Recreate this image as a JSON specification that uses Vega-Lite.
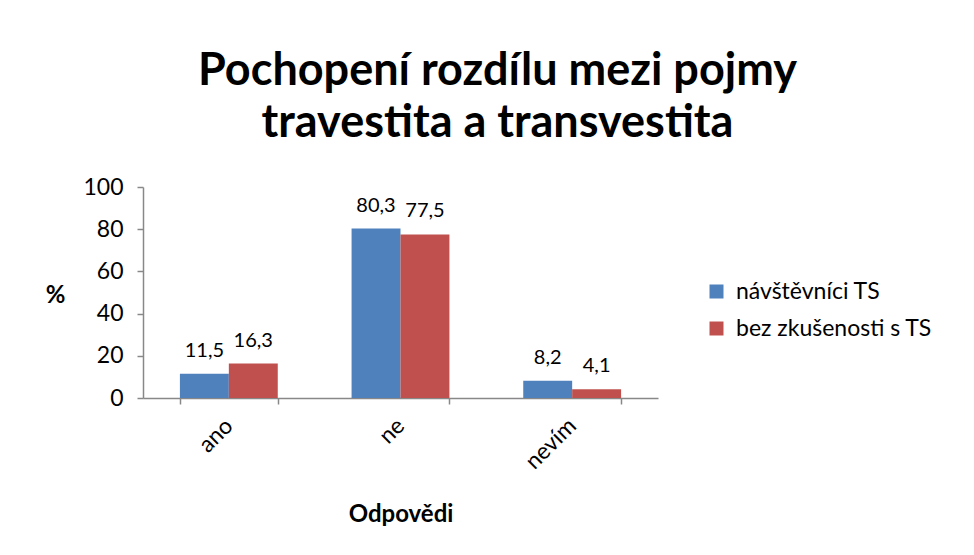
{
  "$schema": "https://vega.github.io/schema/vega-lite/v6.json",
  "autosize": "none",
  "width": 515,
  "height": 211,
  "padding": {"left": 143, "top": 187, "right": 316, "bottom": 157},
  "background": "white",
  "config": {
    "locale": {"number": {"decimal": ",", "thousands": " ", "grouping": [3], "currency": ["", " Kč"]}},
    "view": {"stroke": null},
    "font": "Lato"
  },
  "title": {
    "text": ["Pochopení rozdílu mezi pojmy", "travestita a transvestita"],
    "font": "Lato",
    "fontSize": 45,
    "fontWeight": "bold",
    "color": "#000000",
    "lineHeight": 52,
    "anchor": "middle",
    "dx": 97,
    "offset": 30
  },
  "data": {
    "values": [
      {"odpoved": "ano", "skupina": "návštěvníci TS", "pct": 11.5},
      {"odpoved": "ano", "skupina": "bez zkušenosti s TS", "pct": 16.3},
      {"odpoved": "ne", "skupina": "návštěvníci TS", "pct": 80.3},
      {"odpoved": "ne", "skupina": "bez zkušenosti s TS", "pct": 77.5},
      {"odpoved": "nevím", "skupina": "návštěvníci TS", "pct": 8.2},
      {"odpoved": "nevím", "skupina": "bez zkušenosti s TS", "pct": 4.1}
    ]
  },
  "encoding": {
    "x": {
      "field": "odpoved", "type": "nominal", "sort": ["ano", "ne", "nevím"],
      "scale": {"paddingInner": 0.43, "paddingOuter": 0.215},
      "axis": {
        "title": "Odpovědi", "titleFont": "Lato", "titleFontSize": 24, "titleFontWeight": "bold", "titleColor": "#000000",
        "titleY": 116, "titleBaseline": "middle",
        "labelAngle": -45, "labelAlign": "right", "labelBaseline": "middle", "labelFontSize": 23, "labelColor": "#000000",
        "labelPadding": 18, "labelFont": "Lato",
        "tickBand": "extent", "tickSize": 6, "tickColor": "#888888", "domainColor": "#888888", "domainWidth": 1.5, "tickWidth": 1.5
      }
    },
    "y": {
      "field": "pct", "type": "quantitative",
      "scale": {"domain": [0, 100]},
      "axis": {
        "values": [0, 20, 40, 60, 80, 100], "grid": false,
        "title": "%", "titleAngle": 0, "titleFont": "Lato", "titleFontSize": 24, "titleFontWeight": "bold", "titleColor": "#000000",
        "titleX": -88, "titleY": 108, "titleAlign": "center", "titleBaseline": "middle",
        "labelFontSize": 23, "labelColor": "#000000", "labelPadding": 14, "labelFont": "Lato",
        "tickSize": 6, "tickColor": "#888888", "domainColor": "#888888", "domainWidth": 1.5, "tickWidth": 1.5
      }
    },
    "xOffset": {"field": "skupina", "type": "nominal", "sort": ["návštěvníci TS", "bez zkušenosti s TS"], "scale": {"paddingInner": 0, "paddingOuter": 0}}
  },
  "layer": [
    {
      "mark": {"type": "bar"},
      "encoding": {
        "color": {
          "field": "skupina", "type": "nominal", "sort": ["návštěvníci TS", "bez zkušenosti s TS"],
          "scale": {"domain": ["návštěvníci TS", "bez zkušenosti s TS"], "range": ["#4F81BD", "#C0504D"]},
          "legend": {
            "title": null, "orient": "none", "legendX": 562, "legendY": 93,
            "symbolType": "square", "symbolSize": 196, "symbolStrokeWidth": 0, "symbolOpacity": 1,
            "labelFontSize": 23, "labelFont": "Lato", "labelColor": "#000000", "rowPadding": 13, "labelOffset": 8, "labelLimit": 400
          }
        }
      }
    },
    {
      "mark": {"type": "text", "baseline": "bottom", "dy": -13, "fontSize": 20, "font": "Lato", "color": "#000000"},
      "encoding": {
        "text": {"field": "pct", "type": "quantitative", "format": ".1f"}
      }
    }
  ]
}
